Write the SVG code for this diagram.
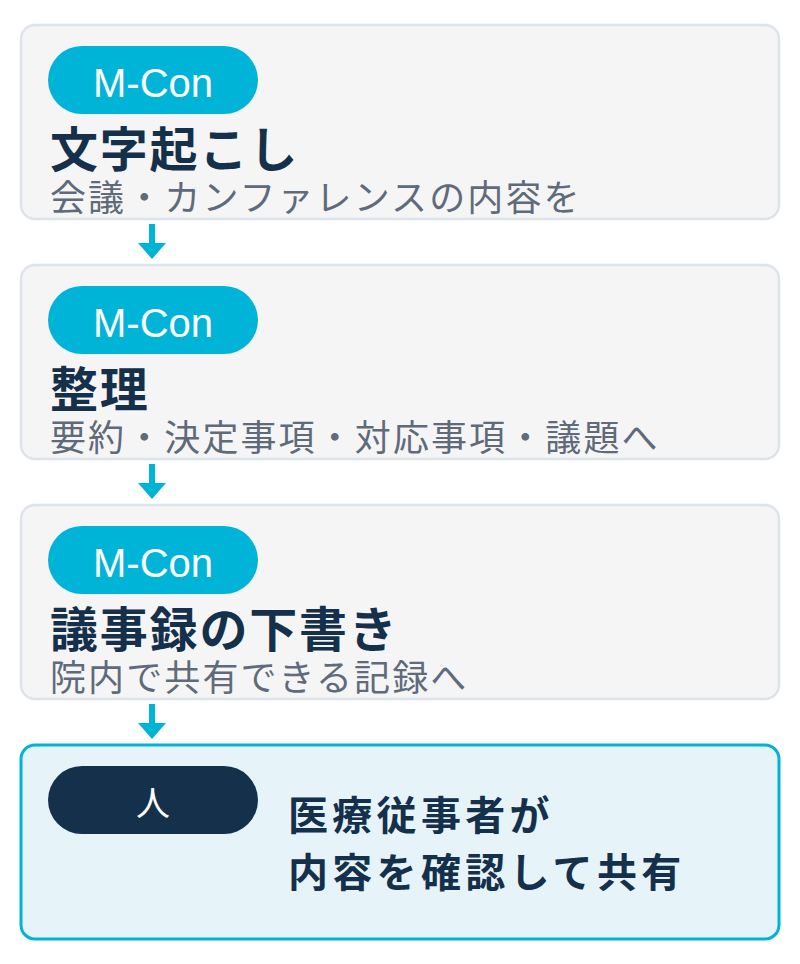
<svg xmlns="http://www.w3.org/2000/svg" width="800" height="964" viewBox="0 0 800 964">
<style>
.box{fill:#f5f5f5;stroke:#dde3ea;stroke-width:2.5}
.hbox{fill:#e6f4fa;stroke:#00b4d8;stroke-width:3}
.pill{fill:#00b4d8}
.pillh{fill:#15304b}
.pt{font-family:"Liberation Sans","Noto Sans CJK JP",sans-serif;font-size:40px;fill:#ffffff;text-anchor:middle}
.title{font-family:"Noto Sans CJK JP",sans-serif;font-size:48px;font-weight:bold;fill:#15304b;letter-spacing:1.8px}
.sub{font-family:"Noto Sans CJK JP",sans-serif;font-size:36px;fill:#5f6b7a;letter-spacing:2.1px}
.ht{font-family:"Noto Sans CJK JP",sans-serif;font-size:40px;font-weight:bold;fill:#15304b;letter-spacing:4.3px}
.arr{stroke:#00b4d8;stroke-width:6}
.head{fill:#00b4d8}
</style>
<g id="node1">
<rect class="box" x="21" y="25" width="758" height="194" rx="14"/>
<rect class="pill" x="48" y="46" width="210" height="68" rx="34"/>
<text class="pt" x="153" y="97">M-Con</text>
<text class="title" x="50" y="167">文字起こし</text>
<text class="sub" x="50" y="211">会議・カンファレンスの内容を</text>
</g>
<g id="node2">
<rect class="box" x="21" y="265" width="758" height="194" rx="14"/>
<rect class="pill" x="48" y="286" width="210" height="68" rx="34"/>
<text class="pt" x="153" y="337">M-Con</text>
<text class="title" x="50" y="407">整理</text>
<text class="sub" x="50" y="451">要約・決定事項・対応事項・議題へ</text>
</g>
<g id="node3">
<rect class="box" x="21" y="505" width="758" height="194" rx="14"/>
<rect class="pill" x="48" y="526" width="210" height="68" rx="34"/>
<text class="pt" x="153" y="577">M-Con</text>
<text class="title" x="50" y="647">議事録の下書き</text>
<text class="sub" x="50" y="691">院内で共有できる記録へ</text>
</g>
<g id="node4">
<rect class="hbox" x="21" y="745" width="758" height="194" rx="14"/>
<rect class="pillh" x="48" y="766" width="210" height="68" rx="34"/>
<text class="pt" x="153" y="816" style="font-family:'Noto Sans CJK JP',sans-serif;font-size:34px">人</text>
<text class="ht" x="288" y="830">医療従事者が</text>
<text class="ht" x="288" y="887">内容を確認して共有</text>
</g>
<g id="connectors">
<line class="arr" x1="152" y1="224" x2="152" y2="245"/>
<polygon class="head" points="138,243 166,243 152,259"/>
<line class="arr" x1="152" y1="464" x2="152" y2="485"/>
<polygon class="head" points="138,483 166,483 152,499"/>
<line class="arr" x1="152" y1="704" x2="152" y2="725"/>
<polygon class="head" points="138,723 166,723 152,739"/>
</g>
</svg>
